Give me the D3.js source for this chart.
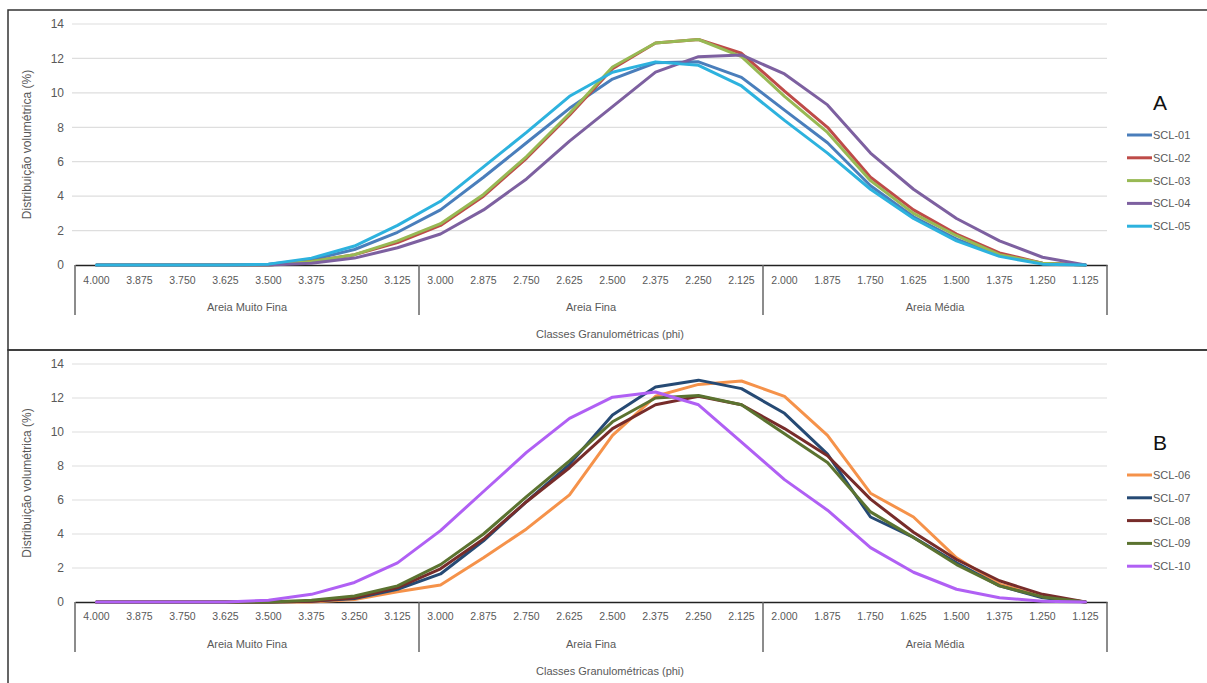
<!DOCTYPE html>
<html>
<head>
<meta charset="utf-8">
<script src="https://cdn.jsdelivr.net/npm/d3@7"></script>
<style>
  body { margin: 0; background: #fff; }
  svg { display: block; font-family: "Liberation Sans", Arial, sans-serif; }
</style>
</head>
<body>
<svg id="chart" width="1207" height="683"></svg>
<script>
// phi classes (categories) and their grouping
const phiClasses = ["4.000","3.875","3.750","3.625","3.500","3.375","3.250","3.125",
                    "3.000","2.875","2.750","2.625","2.500","2.375","2.250","2.125",
                    "2.000","1.875","1.750","1.625","1.500","1.375","1.250","1.125"];
const groupNames = ["Areia Muito Fina", "Areia Fina", "Areia Média"];
const yTicks = [0, 2, 4, 6, 8, 10, 12, 14];

// panel A series
const namesA = ["SCL-01","SCL-02","SCL-03","SCL-04","SCL-05"];
const scl01 = [0,0,0,0,0.05,0.3,0.9,1.9,3.2,5.1,7.1,9.1,10.8,11.75,11.8,10.9,9.0,7.1,4.6,2.8,1.5,0.55,0.1,0];
const scl02 = [0,0,0,0,0,0.2,0.6,1.3,2.3,4.0,6.2,8.7,11.4,12.9,13.1,12.3,10.1,8.0,5.1,3.2,1.8,0.7,0.1,0];
const scl03 = [0,0,0,0,0,0.2,0.6,1.4,2.4,4.1,6.3,8.8,11.5,12.9,13.1,12.1,9.8,7.7,4.9,3.0,1.7,0.6,0.1,0];
const scl04 = [0,0,0,0,0,0.1,0.4,1.0,1.8,3.2,5.0,7.2,9.2,11.2,12.1,12.2,11.1,9.3,6.5,4.4,2.7,1.4,0.45,0];
const scl05 = [0,0,0,0,0.05,0.4,1.1,2.3,3.7,5.7,7.7,9.8,11.2,11.8,11.6,10.4,8.4,6.5,4.4,2.7,1.4,0.5,0.05,0];

// panel B series
const namesB = ["SCL-06","SCL-07","SCL-08","SCL-09","SCL-10"];
const scl06 = [0,0,0,0,0,0,0.15,0.6,1.0,2.6,4.3,6.3,9.8,12.1,12.8,13.0,12.1,9.8,6.4,5.0,2.6,1.05,0.3,0];
const scl07 = [0,0,0,0,0,0.05,0.2,0.75,1.65,3.6,5.9,8.1,11.0,12.65,13.05,12.55,11.1,8.7,5.0,3.8,2.3,0.95,0.25,0];
const scl08 = [0,0,0,0,0,0.05,0.25,0.85,1.95,3.7,5.9,7.9,10.2,11.6,12.1,11.6,10.2,8.6,6.05,4.1,2.5,1.25,0.45,0];
const scl09 = [0,0,0,0,0,0.1,0.35,0.95,2.2,4.0,6.2,8.3,10.6,12.0,12.15,11.6,9.9,8.2,5.3,3.8,2.2,0.95,0.3,0];
const scl10 = [0,0,0,0,0.1,0.45,1.15,2.3,4.2,6.5,8.8,10.8,12.05,12.35,11.6,9.4,7.2,5.4,3.2,1.75,0.75,0.25,0.05,0];

const colorsA = ["#4A7EBB","#BE4B48","#98B954","#7D60A0","#2DB2DE"];
const colorsB = ["#F5924A","#264A74","#772C2A","#5B7330","#B060F4"];

const svg = d3.select("#chart");
const left = 75, right = 1107;
const gray = "#595959";

const x = d3.scaleBand().domain(phiClasses).range([left, right]);
const cx = d => x(d) + x.bandwidth() / 2;

const drawPanel = (cfg) => {
  const y = d3.scaleLinear().domain([0, 14]).range([cfg.bottom, cfg.top]);
  const g = svg.append("g");

  // panel frame
  g.append("rect")
    .attr("x", 8).attr("y", cfg.frameTop)
    .attr("width", 1230).attr("height", cfg.frameH)
    .attr("fill", "none").attr("stroke", "#333").attr("stroke-width", 1.5);

  // gridlines
  g.selectAll(".grid")
    .data(yTicks.filter(t => t > 0))
    .join("line")
      .attr("x1", left - 3).attr("x2", right)
      .attr("y1", d => y(d)).attr("y2", d => y(d))
      .attr("stroke", "#dedede").attr("stroke-width", 1.2);

  // y axis
  const yAxis = g.append("g")
    .attr("transform", `translate(${left},0)`)
    .call(d3.axisLeft(y).tickValues(yTicks).tickSize(0).tickPadding(11));
  yAxis.select(".domain").remove();
  yAxis.selectAll("text")
    .attr("fill", gray).style("font-size", "12px")
    .style("font-family", "Liberation Sans, Arial, sans-serif");

  g.append("text")
    .attr("transform", `translate(31,${(cfg.top + cfg.bottom) / 2}) rotate(-90)`)
    .attr("text-anchor", "middle")
    .attr("fill", gray).style("font-size", "12px")
    .text("Distribuição volumétrica (%)");

  // category axis
  const xAxis = g.append("g")
    .attr("transform", `translate(0,${cfg.bottom})`)
    .call(d3.axisBottom(x).tickSize(0).tickPadding(cfg.pad));
  xAxis.select(".domain").attr("stroke", "#222").attr("stroke-width", 1.5);
  xAxis.selectAll("text")
    .attr("fill", gray).style("font-size", "10.5px")
    .style("font-family", "Liberation Sans, Arial, sans-serif");

  // group separators and names
  const bounds = [0, 8, 16, 24].map(i => left + i * x.bandwidth());
  g.selectAll(".sep")
    .data(bounds)
    .join("line")
      .attr("x1", d => d).attr("x2", d => d)
      .attr("y1", cfg.bottom).attr("y2", cfg.bottom + 50)
      .attr("stroke", "#666").attr("stroke-width", 1.5);

  g.selectAll(".grp")
    .data(groupNames)
    .join("text")
      .attr("x", (d, i) => (bounds[i] + bounds[i + 1]) / 2)
      .attr("y", cfg.bottom + 46)
      .attr("text-anchor", "middle")
      .attr("fill", gray).style("font-size", "11px")
      .text(d => d);

  g.append("text")
    .attr("x", 610).attr("y", cfg.bottom + 73)
    .attr("text-anchor", "middle")
    .attr("fill", gray).style("font-size", "11px")
    .text("Classes Granulométricas (phi)");

  // series lines
  const line = d3.line()
    .x((d, i) => cx(phiClasses[i]))
    .y(d => y(d));

  g.selectAll(".series")
    .data(cfg.series)
    .join("path")
      .attr("d", d => line(d))
      .attr("fill", "none")
      .attr("stroke", (d, i) => cfg.colors[i])
      .attr("stroke-width", 3)
      .attr("stroke-linejoin", "round")
      .attr("stroke-linecap", "round");

  // legend
  g.append("text")
    .attr("x", 1160).attr("y", cfg.legTop - 25)
    .attr("text-anchor", "middle")
    .attr("fill", "#111").style("font-size", "21px")
    .text(cfg.letter);

  const leg = g.selectAll(".leg")
    .data(cfg.names)
    .join("g")
      .attr("transform", (d, i) => `translate(1127,${cfg.legTop + i * 22.8})`);
  leg.append("line")
    .attr("x1", 0).attr("x2", 25)
    .attr("stroke", (d, i) => cfg.colors[i]).attr("stroke-width", 3);
  leg.append("text")
    .attr("x", 26).attr("y", 4)
    .attr("fill", gray).style("font-size", "11px")
    .text(d => d);
};

drawPanel({ frameTop: 10, frameH: 340, top: 24, bottom: 265, pad: 12,
            series: [scl01, scl02, scl03, scl04, scl05], names: namesA,
            colors: colorsA, letter: "A", legTop: 135 });
drawPanel({ frameTop: 350, frameH: 345, top: 364, bottom: 602, pad: 11,
            series: [scl06, scl07, scl08, scl09, scl10], names: namesB,
            colors: colorsB, letter: "B", legTop: 475 });
</script>
</body>
</html>
